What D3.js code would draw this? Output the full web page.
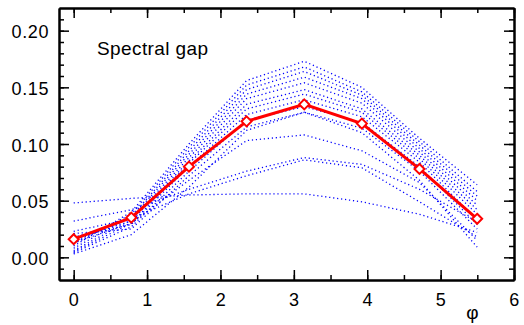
<!doctype html>
<html lang="en">
<head>
<meta charset="UTF-8">
<title>Spectral gap</title>
<style>
  body { margin: 0; background: #fff; }
  svg { display: block; font-family: "Liberation Sans", Arial, sans-serif; }
  .axis path, .axis line { stroke: #000; }
  .axis path { stroke-width: 2; }
  .axis line { stroke-width: 1.5; }
  .axis text { font-size: 18px; fill: #000; letter-spacing: 0.6px; }
</style>
</head>
<body>
<div class="chart"></div>
<script src="https://d3js.org/d3.v7.min.js"></script>
<script>
// phase values where the gap was sampled
const phi = [0, 0.785, 1.571, 2.356, 3.142, 3.927, 4.712, 5.498];

// averaged spectral gap (red)
const gapMean = [0.016, 0.035, 0.080, 0.120, 0.135, 0.118, 0.078, 0.034];

// individual runs (blue dotted)
const run01 = [0.010, 0.040, 0.100, 0.156, 0.173, 0.150, 0.105, 0.064];
const run02 = [0.012, 0.038, 0.097, 0.152, 0.168, 0.146, 0.102, 0.058];
const run03 = [0.008, 0.036, 0.094, 0.148, 0.164, 0.143, 0.099, 0.054];
const run04 = [0.014, 0.035, 0.091, 0.144, 0.159, 0.140, 0.096, 0.050];
const run05 = [0.006, 0.033, 0.088, 0.140, 0.154, 0.136, 0.093, 0.046];
const run06 = [0.016, 0.032, 0.085, 0.135, 0.148, 0.131, 0.090, 0.042];
const run07 = [0.005, 0.030, 0.083, 0.131, 0.144, 0.128, 0.087, 0.038];
const run08 = [0.018, 0.029, 0.080, 0.126, 0.139, 0.124, 0.084, 0.033];
const run09 = [0.004, 0.027, 0.076, 0.121, 0.133, 0.119, 0.080, 0.029];
const run10 = [0.021, 0.025, 0.072, 0.115, 0.128, 0.114, 0.076, 0.025];
const run11 = [0.048, 0.052, 0.055, 0.056, 0.056, 0.049, 0.038, 0.022];
const run12 = [0.032, 0.042, 0.060, 0.076, 0.088, 0.082, 0.060, 0.031];
const run13 = [0.023, 0.034, 0.056, 0.072, 0.086, 0.079, 0.049, 0.018];
const run14 = [0.013, 0.030, 0.068, 0.103, 0.108, 0.094, 0.066, 0.015];
const run15 = [0.003, 0.020, 0.062, 0.112, 0.128, 0.110, 0.068, 0.009];
const runs = [run01, run02, run03, run04, run05, run06, run07, run08,
              run09, run10, run11, run12, run13, run14, run15];

const xTicks = [0, 1, 2, 3, 4, 5, 6];
const yTicks = [0, 0.05, 0.10, 0.15, 0.20];

const width = 524, height = 325;
const margin = { left: 59, right: 514, top: 8, bottom: 280 };

const x = d3.scaleLinear().domain([-0.2, 6]).range([margin.left, margin.right]);
const y = d3.scaleLinear().domain([-0.02, 0.22]).range([margin.bottom, margin.top]);

const svg = d3.select('.chart').append('svg')
  .attr('width', width)
  .attr('height', height);

const xMinor = d3.range(0, 6.01, 0.5);
const yMinor = d3.range(-0.01, 0.215, 0.01);

// minor ticks on all four sides
svg.append('g').attr('class', 'axis').attr('transform', `translate(0,${margin.bottom})`)
  .call(d3.axisBottom(x).tickValues(xMinor).tickSize(-5).tickSizeOuter(0).tickFormat(''));
svg.append('g').attr('class', 'axis').attr('transform', `translate(0,${margin.top})`)
  .call(d3.axisTop(x).tickValues(xMinor).tickSize(-5).tickSizeOuter(0).tickFormat(''));
svg.append('g').attr('class', 'axis').attr('transform', `translate(${margin.left},0)`)
  .call(d3.axisLeft(y).tickValues(yMinor).tickSize(-5).tickSizeOuter(0).tickFormat(''));
svg.append('g').attr('class', 'axis').attr('transform', `translate(${margin.right},0)`)
  .call(d3.axisRight(y).tickValues(yMinor).tickSize(-5).tickSizeOuter(0).tickFormat(''));

// major ticks + labels
svg.append('g').attr('class', 'axis').attr('transform', `translate(0,${margin.bottom})`)
  .call(d3.axisBottom(x).tickValues(xTicks).tickSize(-10).tickSizeOuter(0)
    .tickPadding(13).tickFormat(d3.format('d')));
svg.append('g').attr('class', 'axis').attr('transform', `translate(0,${margin.top})`)
  .call(d3.axisTop(x).tickValues(xTicks).tickSize(-10).tickSizeOuter(0).tickFormat(''));
svg.append('g').attr('class', 'axis').attr('transform', `translate(${margin.left},0)`)
  .call(d3.axisLeft(y).tickValues(yTicks).tickSize(-10).tickSizeOuter(0)
    .tickPadding(10).tickFormat(d3.format('.2f')))
  .selectAll('text').attr('dy', '0.4em');
svg.append('g').attr('class', 'axis').attr('transform', `translate(${margin.right},0)`)
  .call(d3.axisRight(y).tickValues(yTicks).tickSize(-10).tickSizeOuter(0).tickFormat(''));

const line = d3.line()
  .x((d, i) => x(phi[i]))
  .y(d => y(d));

svg.append('g').selectAll('path')
  .data(runs)
  .enter()
  .append('path')
  .attr('d', line)
  .attr('fill', 'none')
  .attr('stroke', '#0000ff')
  .attr('stroke-width', 1.3)
  .attr('stroke-dasharray', '1.2,2.8');

svg.append('path')
  .attr('d', line(gapMean))
  .attr('fill', 'none')
  .attr('stroke', '#ff0000')
  .attr('stroke-width', 3);

svg.selectAll('.marker')
  .data(gapMean)
  .enter()
  .append('path')
  .attr('class', 'marker')
  .attr('transform', (d, i) => `translate(${x(phi[i])},${y(d)})`)
  .attr('d', 'M0,-5L5,0L0,5L-5,0Z')
  .attr('fill', '#fff')
  .attr('stroke', '#ff0000')
  .attr('stroke-width', 2);

svg.append('text')
  .attr('x', 97)
  .attr('y', 55)
  .style('font-size', '19px')
  .style('letter-spacing', '0.4px')
  .text('Spectral gap');

svg.append('text')
  .attr('x', 472.5)
  .attr('y', 319)
  .attr('text-anchor', 'middle')
  .style('font-size', '19px')
  .text('φ');
</script>
</body>
</html>
